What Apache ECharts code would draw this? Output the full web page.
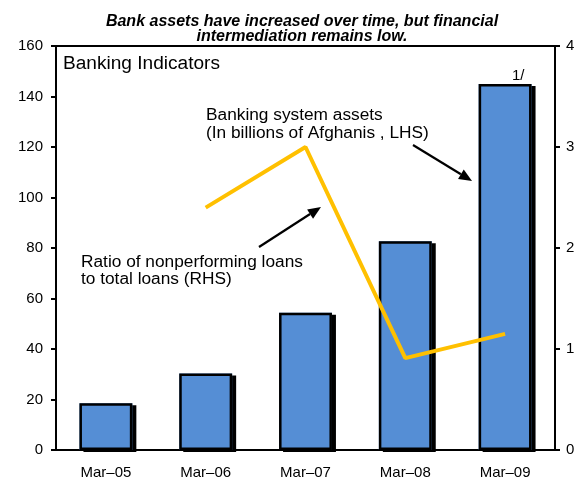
<!DOCTYPE html>
<html><head><meta charset="utf-8">
<script src="https://cdn.jsdelivr.net/npm/echarts@6/dist/echarts.min.js"></script>
<style>html,body{margin:0;padding:0;background:#fff}#c{width:578px;height:480px}</style>
</head><body><div id="c"></div>
<script>
const categories = ['Mar\u201305','Mar\u201306','Mar\u201307','Mar\u201308','Mar\u201309'];
const assets = [18.5, 30.3, 54.4, 82.7, 145.0];
const npl = [null, 2.4, 3.0, 0.91, 1.15];
const leftTicks = [0, 20, 40, 60, 80, 100, 120, 140, 160];
const rightTicks = [0, 1, 2, 3, 4];

function arrow(x1, y1, x2, y2) {
  const a = Math.atan2(y2 - y1, x2 - x1), L = 13, W = 5.5;
  const bx = x2 - L * Math.cos(a), by = y2 - L * Math.sin(a);
  const px = -Math.sin(a) * W, py = Math.cos(a) * W;
  return [
    {type:'line', shape:{x1:x1,y1:y1,x2:bx,y2:by}, style:{stroke:'#000', lineWidth:2.2}},
    {type:'polygon', shape:{points:[[x2,y2],[bx+px,by+py],[bx-px,by-py]]}, style:{fill:'#000'}}
  ];
}
const font = 'Liberation Sans, Arial, sans-serif';
const chart = echarts.init(document.getElementById('c'));
chart.setOption({
  animation:false,
  title:{text:'Bank assets have increased over time, but financial\nintermediation remains low.', left:297, textAlign:'center', top:9,
    textStyle:{fontFamily:font, fontSize:16, fontWeight:'bold', fontStyle:'italic', color:'#000', lineHeight:15}},
  grid:{left:56, right:23, top:46, bottom:28, show:true, borderColor:'#000', borderWidth:2},
  xAxis:{type:'category', data:categories, axisLine:{lineStyle:{color:'#000', width:2}}, axisTick:{show:false},
    axisLabel:{fontFamily:font, fontSize:15, color:'#000', margin:15}},
  yAxis:[
    {type:'value', min:leftTicks[0], max:leftTicks[leftTicks.length-1], interval:20, splitLine:{show:false},
      axisLine:{show:true, lineStyle:{color:'#000', width:2}}, axisTick:{show:true, length:5, lineStyle:{width:2}},
      axisLabel:{fontFamily:font, fontSize:15, color:'#000', margin:13}},
    {type:'value', min:rightTicks[0], max:rightTicks[rightTicks.length-1], interval:1, splitLine:{show:false}, position:'right',
      axisLine:{show:true, lineStyle:{color:'#000', width:2}}, axisTick:{show:true, length:5, lineStyle:{width:2}},
      axisLabel:{fontFamily:font, fontSize:15, color:'#000', margin:11}}
  ],
  series:[
    {type:'bar', data:assets, barWidth:'53%', yAxisIndex:0, z:2,
      itemStyle:{color:'#558ED5', shadowColor:'#000', shadowOffsetX:4, shadowOffsetY:2, shadowBlur:0}},
    {type:'bar', data:assets, barWidth:'53%', barGap:'-100%', yAxisIndex:0, z:3, silent:true,
      itemStyle:{color:'rgba(0,0,0,0)', borderColor:'#000', borderWidth:2.5}},
    {type:'line', data:npl, yAxisIndex:1, symbol:'none', z:4, lineStyle:{color:'#FFC000', width:4}}
  ],
  graphic:[
    {type:'text', x:63, y:55, scaleX:1.06, style:{text:'Banking Indicators', font:'18px '+font, fill:'#000'}},
    {type:'text', x:206, y:106, scaleX:1.08, style:{text:'Banking system assets\n(In billions of Afghanis , LHS)', font:'16px '+font, fill:'#000', lineHeight:18.5}},
    {type:'text', x:81, y:254, scaleX:1.08, style:{text:'Ratio of nonperforming loans\nto total loans (RHS)', font:'16px '+font, fill:'#000', lineHeight:17}},
    {type:'text', x:512, y:68, style:{text:'1/', font:'15px '+font, fill:'#000'}},
    ...arrow(413, 145, 472, 181),
    ...arrow(259, 247, 321, 207)
  ]
});
</script></body></html>
